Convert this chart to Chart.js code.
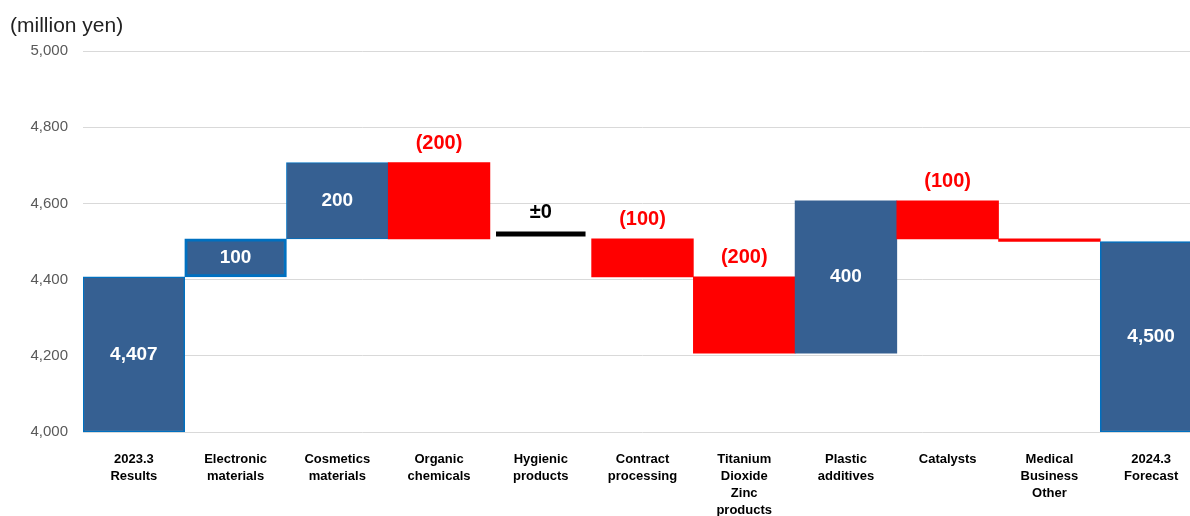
<!DOCTYPE html>
<html>
<head>
<meta charset="utf-8">
<script src="https://cdn.jsdelivr.net/npm/chart.js@4/dist/chart.umd.min.js"></script>
<style>
html, body { margin: 0; padding: 0; background: #fff; overflow: hidden; width: 1190px; height: 516px; }
#wrap { position: relative; width: 1202px; height: 516px; }
#unit { position: absolute; left: 10px; top: 13px; font: 21px "Liberation Sans", Arial, sans-serif; color: #222; }
</style>
</head>
<body>
<div id="wrap">
  <canvas id="chart" width="1202" height="516"></canvas>
  <div id="unit">(million yen)</div>
</div>
<script>
// categories (multi-line labels)
const categories = [
    ['2023.3', 'Results'],
    ['Electronic', 'materials'],
    ['Cosmetics', 'materials'],
    ['Organic', 'chemicals'],
    ['Hygienic', 'products'],
    ['Contract', 'processing'],
    ['Titanium', 'Dioxide', 'Zinc', 'products'],
    ['Plastic', 'additives'],
    ['Catalysts'],
    ['Medical', 'Business', 'Other'],
    ['2024.3', 'Forecast']
];
// waterfall bars: start and end values (million yen)
const barStart = [4000, 4407, 4507, 4507, null, 4407, 4207, 4207, 4507, 4500, 4000];
const barEnd = [4407, 4507, 4707, 4707, null, 4507, 4407, 4607, 4607, 4507, 4500];
const barKind = ['total', 'up', 'up', 'down', 'flat', 'down', 'down', 'up', 'down', 'down', 'total'];
// the "±0" marker for Hygienic products
const flatMarker = [4513, 4526];
const valueLabels = ['4,407', '100', '200', '(200)', '\u00b10', '(100)', '(200)', '400', '(100)', '', '4,500'];
const yTicks = [4000, 4200, 4400, 4600, 4800, 5000];

const BLUE = '#366092';
const RED = '#ff0000';

const valueLabelPlugin = {
    id: 'valueLabels',
    afterDatasetsDraw(chart) {
        const ctx = chart.ctx;
        const bars = chart.getDatasetMeta(0).data;
        const marks = chart.getDatasetMeta(1).data;
        ctx.save();
        ctx.textAlign = 'center';
        ctx.textBaseline = 'middle';
        valueLabels.forEach((txt, i) => {
            if (!txt) return;
            const kind = barKind[i];
            const el = kind === 'flat' ? marks[i] : bars[i];
            if (!el) return;
            const top = Math.min(el.y, el.base);
            const bottom = Math.max(el.y, el.base);
            if (kind === 'total' || kind === 'up') {
                ctx.font = 'bold 19px "Liberation Sans", Arial, sans-serif';
                ctx.fillStyle = '#ffffff';
                ctx.fillText(txt, el.x, (top + bottom) / 2);
            } else {
                ctx.font = 'bold 20px "Liberation Sans", Arial, sans-serif';
                ctx.fillStyle = kind === 'flat' ? '#000000' : RED;
                ctx.fillText(txt, el.x, top - 19);
            }
        });
        ctx.restore();
    }
};

const ctx = document.getElementById('chart').getContext('2d');
new Chart(ctx, {
    type: 'bar',
    data: {
        labels: categories,
        datasets: [
            {
                label: 'Change',
                data: barStart.map((s, i) => s == null ? null : [s, barEnd[i]]),
                backgroundColor: barKind.map(k => k === 'down' ? RED : BLUE),
                borderColor: '#0070c0',
                borderWidth: [1.5, 3, 1, 0, 0, 0, 0, 0, 0, 0, 1.5],
                borderSkipped: false,
                barPercentage: 1,
                categoryPercentage: 1,
                grouped: false
            },
            {
                label: 'Flat',
                data: barKind.map(k => k === 'flat' ? flatMarker : null),
                backgroundColor: '#000000',
                borderWidth: 0,
                barPercentage: 0.88,
                categoryPercentage: 1,
                grouped: false
            }
        ]
    },
    options: {
        responsive: false,
        animation: false,
        devicePixelRatio: 1,
        layout: { padding: { top: 51, right: 0, bottom: 0, left: 0 } },
        plugins: {
            legend: { display: false },
            tooltip: { enabled: false }
        },
        scales: {
            x: {
                grid: { display: false, drawTicks: false },
                border: { display: false },
                ticks: {
                    color: '#000000',
                    font: { family: '"Liberation Sans", Arial, sans-serif', size: 13, weight: 'bold', lineHeight: 1.3 },
                    padding: 19,
                    maxRotation: 0,
                    autoSkip: false
                },
                afterFit(scale) { scale.height = 84; }
            },
            y: {
                min: yTicks[0],
                max: yTicks[yTicks.length - 1],
                grid: { color: '#d9d9d9', drawTicks: false },
                border: { display: false },
                afterBuildTicks(scale) { scale.ticks = yTicks.map(v => ({ value: v })); },
                ticks: {
                    color: '#595959',
                    font: { family: '"Liberation Sans", Arial, sans-serif', size: 15 },
                    padding: 15,
                    callback: v => v.toLocaleString('en-US')
                },
                afterFit(scale) { scale.width = 83; }
            }
        }
    },
    plugins: [valueLabelPlugin]
});
</script>
</body>
</html>
